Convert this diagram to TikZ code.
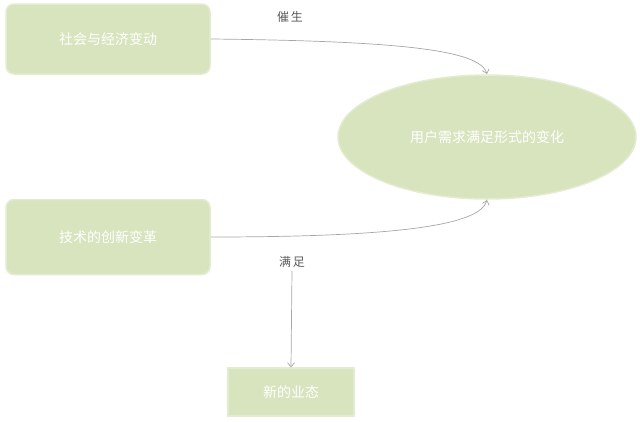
\documentclass[tikz,border=0pt]{standalone}
\usepackage{fontspec}
\setmainfont{Noto Sans CJK SC}
\usetikzlibrary{shapes.geometric,arrows.meta}
\definecolor{boxg}{HTML}{D7E4BD}
\definecolor{edgeg}{HTML}{E3ECD0}
\definecolor{linec}{HTML}{A6A6A6}
\begin{document}
\begin{tikzpicture}[x=1pt,y=-1pt,
  rbox/.style={draw=edgeg,line width=1.5pt,fill=boxg,rounded corners=8pt,text=white,font=\fontsize{14}{16}\selectfont},
  lab/.style={text=black!65,font=\fontsize{12}{14}\selectfont},
  conn/.style={draw=linec,line width=0.7pt,-{Straight Barb[length=4pt,width=7pt]}}]
\useasboundingbox (0,0) rectangle (640,421);
\node[rbox,minimum width=204pt,minimum height=70pt] (s) at (108,39) {社会与经济变动};
\node[rbox,minimum width=204pt,minimum height=75pt] (t) at (108,237) {技术的创新变革};
\node[ellipse,draw=edgeg,line width=1.5pt,fill=boxg,text=white,font=\fontsize{14}{16}\selectfont,minimum width=298pt,minimum height=124pt] (u) at (487,137) {用户需求满足形式的变化};
\node[rbox,rounded corners=0pt,minimum width=126pt,minimum height=48pt] (n) at (291,392) {新的业态};
\node[lab] (l1) at (290,17) {催\,生};
\node[lab] (l2) at (292,262) {满\,足};
\coordinate (ut) at (487,74);
\coordinate (ub) at (487,200);
\draw[conn] (s.east) .. controls (400,41) and (480,50) .. (ut);
\draw[conn] (t.east) .. controls (400,237) and (480,225) .. (ub);
\draw[conn] (l2.south) -- (n.north);
\end{tikzpicture}
\end{document}
